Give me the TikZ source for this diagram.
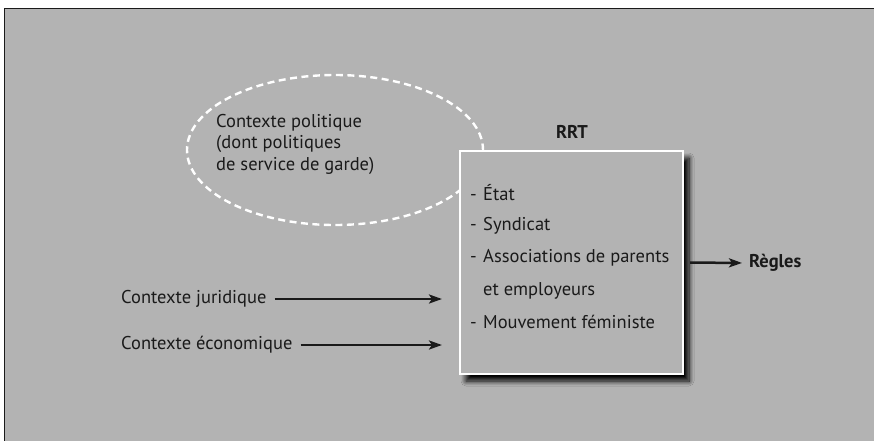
\documentclass[tikz,border=0pt]{standalone}
\usepackage{fontspec}
\setmainfont{PT Sans}
\usetikzlibrary{arrows.meta,shadows.blur}
\definecolor{fond}{HTML}{B3B3B3}
\definecolor{encre}{HTML}{1A1A1A}

\begin{document}
\begin{tikzpicture}[x=1pt,y=-1pt,>={Stealth[length=13pt,width=9pt,inset=3pt]},
  txt/.style={inner sep=0pt,anchor=west,text=encre,font=\fontsize{18.5}{22}\selectfont},
  gras/.style={txt,font=\fontsize{18.5}{22}\selectfont\bfseries},
  arr/.style={->,encre,line width=2.5pt},
  bulle/.style={white,line width=2.4pt,dash pattern=on 7pt off 4.5pt},
  rrtbox/.style={draw=white,line width=2pt,fill=fond,minimum width=223pt,minimum height=223pt,
    blur shadow={shadow xshift=6pt,shadow yshift=-7pt,shadow blur steps=10,shadow blur radius=5pt,shadow opacity=100}}]
  \useasboundingbox (0,0) rectangle (874,440);
  \fill[white] (0,0) rectangle (874,440);
  \filldraw[fill=fond,draw=encre,line width=1.5pt] (4.5,8.5) rectangle (880,446);

  % contexte politique
  \draw[bulle] (335,150) ellipse [x radius=148, y radius=75];
  \node[txt,align=left,anchor=north west,font=\fontsize{18.5}{21.5}\selectfont] (pol) at (216,114)
    {Contexte politique\\(dont politiques\\de service de garde)};

  % RRT
  \node[rrtbox] (rrt) at (571.5,262.5) {};
  \node[gras,anchor=center] (titre) at (572,132) {RRT};
  \node[txt] (etat) at (470,193) {\makebox[13pt][l]{-}État};
  \node[txt] (synd) at (470,226) {\makebox[13pt][l]{-}Syndicat};
  \node[txt] (assoc) at (470,258) {\makebox[13pt][l]{-}Associations de parents};
  \node[txt] (empl) at (483,291) {et employeurs};
  \node[txt] (fem) at (470,322) {\makebox[13pt][l]{-}Mouvement féministe};

  % sorties et entrees
  \node[gras] (regles) at (749,263) {Règles};
  \draw[arr,shorten <=6pt,shorten >=7pt] (rrt.east) -- (regles.west);

  \node[txt] (jur) at (121,299) {Contexte juridique};
  \node[txt] (eco) at (121,345) {Contexte économique};
  \draw[arr,shorten <=8pt,shorten >=17pt] (jur.east) -- (jur.east -| rrt.west);
  \draw[arr,shorten <=8pt,shorten >=17pt] (eco.east) -- (eco.east -| rrt.west);
\end{tikzpicture}
\end{document}
